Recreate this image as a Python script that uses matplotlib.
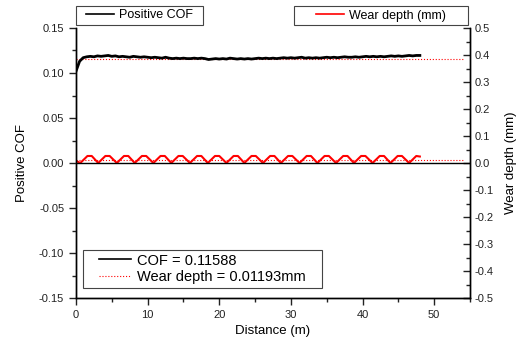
import numpy as np
import matplotlib.pyplot as plt
from matplotlib.lines import Line2D
from matplotlib.patches import Rectangle
from matplotlib.ticker import MultipleLocator

plt.rcParams['font.family'] = ['Liberation Sans', 'DejaVu Sans']

# COF sampled every 0.5 m from 0 to 48 m
cof_x = np.arange(0, 48.01, 0.5)
cof = [0.102, 0.113, 0.117, 0.118, 0.1185, 0.118, 0.119, 0.1185, 0.119, 0.1195,
       0.1185, 0.119, 0.118, 0.1185, 0.118, 0.1175, 0.1185, 0.118, 0.1175, 0.118,
       0.1175, 0.117, 0.1175, 0.117, 0.1165, 0.1175, 0.1165, 0.116, 0.1165, 0.116,
       0.1165, 0.116, 0.116, 0.1165, 0.116, 0.1165, 0.116, 0.115, 0.1155, 0.116,
       0.1155, 0.116, 0.1155, 0.1165, 0.116, 0.1155, 0.116, 0.1155, 0.116, 0.1155,
       0.116, 0.1165, 0.116, 0.1165, 0.116, 0.1165, 0.116, 0.1165, 0.117, 0.1165,
       0.117, 0.1165, 0.117, 0.1175, 0.1165, 0.117, 0.1165, 0.117, 0.1165, 0.117,
       0.1175, 0.117, 0.1175, 0.117, 0.1175, 0.118, 0.1175, 0.1175, 0.118, 0.1175,
       0.118, 0.1185, 0.118, 0.1185, 0.118, 0.1185, 0.118, 0.1185, 0.119, 0.1185,
       0.119, 0.1185, 0.119, 0.1195, 0.119, 0.1195, 0.1195]

# wear depth zigzag vertices (mm)
wear_x = [0.0, 0.6, 1.6, 2.2, 3.1, 4.1, 4.7, 5.7, 6.7, 7.3, 8.2, 9.2, 9.8, 10.8,
          11.8, 12.4, 13.3, 14.3, 14.9, 15.9, 16.9, 17.5, 18.4, 19.4, 20.0, 21.0,
          22.0, 22.6, 23.5, 24.5, 25.1, 26.1, 27.1, 27.7, 28.6, 29.6, 30.2, 31.2,
          32.2, 32.8, 33.7, 34.7, 35.3, 36.3, 37.3, 37.9, 38.8, 39.8, 40.4, 41.4,
          42.4, 43.0, 43.9, 44.9, 45.5, 46.5, 47.5, 48.0]
wear = [0.008, 0.0, 0.026, 0.026, 0.0, 0.026, 0.026, 0.0, 0.026, 0.026, 0.0, 0.026,
        0.026, 0.0, 0.026, 0.026, 0.0, 0.026, 0.026, 0.0, 0.026, 0.026, 0.0, 0.026,
        0.026, 0.0, 0.026, 0.026, 0.0, 0.026, 0.026, 0.0, 0.026, 0.026, 0.0, 0.026,
        0.026, 0.0, 0.026, 0.026, 0.0, 0.026, 0.026, 0.0, 0.026, 0.026, 0.0, 0.026,
        0.026, 0.0, 0.026, 0.026, 0.0, 0.026, 0.026, 0.0, 0.026, 0.024]

cof_mean = 0.11588
wear_mean = 0.01193
mean_x = [0, 54]

W, H = 524, 343
fig = plt.figure(figsize=(W/100, H/100), dpi=100)
ax = fig.add_axes([76/W, 1-298/H, 394/W, 270/H])
ax2 = ax.twinx()

ax.axhline(0, color='black', lw=1.0, zorder=1)
ax.plot(mean_x, [cof_mean, cof_mean], color='red', ls=':', lw=0.8, zorder=2)
ax.plot(cof_x, cof, color='black', lw=2.0, zorder=3)
ax2.plot(mean_x, [wear_mean, wear_mean], color='red', ls=':', lw=0.8)
ax2.plot(wear_x, wear, color='red', lw=1.5)

ax.set_xlim(0, 55)
ax.set_ylim(-0.15, 0.15)
ax2.set_ylim(-0.5, 0.5)

ax.set_xticks([0, 10, 20, 30, 40, 50])
ax.xaxis.set_minor_locator(MultipleLocator(5))
ax.yaxis.set_major_locator(MultipleLocator(0.05))
ax.yaxis.set_minor_locator(MultipleLocator(0.025))
ax2.yaxis.set_major_locator(MultipleLocator(0.1))
ax2.yaxis.set_minor_locator(MultipleLocator(0.05))
ax.yaxis.set_major_formatter(plt.FuncFormatter(lambda v, p: f'{v:.2f}'))
ax2.yaxis.set_major_formatter(plt.FuncFormatter(lambda v, p: f'{v:.1f}'))

for a in (ax, ax2):
    a.spines['top'].set_visible(False)
    for s in a.spines.values():
        s.set_linewidth(1.0)
ax.tick_params(which='both', direction='out', labelsize=8, colors='#222222')
ax.tick_params(which='major', length=5, width=1)
ax.tick_params(which='minor', length=3, width=1)
ax2.tick_params(which='both', direction='in', labelsize=8, colors='#222222')
ax2.tick_params(which='major', length=5, width=1)
ax2.tick_params(which='minor', length=3, width=1)

ax.set_xlabel('Distance (m)', fontsize=9.5, labelpad=4)
ax.set_ylabel('Positive COF', fontsize=9.5, labelpad=8)
ax2.set_ylabel('Wear depth (mm)', fontsize=9.5, labelpad=8)


def boxed_legend(handles, labels, box, fontsize, **kw):
    x0, y0, x1, y1 = box
    fig.add_artist(Rectangle((x0/W, 1-y1/H), (x1-x0)/W, (y1-y0)/H,
                             transform=fig.transFigure, fill=True,
                             facecolor='white', edgecolor='#444444', lw=0.8,
                             zorder=5))
    leg = fig.legend(handles, labels, loc='center',
                     bbox_to_anchor=((x0+x1)/2/W, 1-(y0+y1)/2/H),
                     fontsize=fontsize, frameon=False, borderpad=0,
                     borderaxespad=0, **kw)
    leg.set_zorder(6)
    return leg


boxed_legend([Line2D([], [], color='black', lw=1.2)], ['Positive COF'],
             (76, 6, 203, 25), 9, handlelength=2.3, handletextpad=0.4)
boxed_legend([Line2D([], [], color='red', lw=1.2)], ['Wear depth (mm)'],
             (294, 6, 468, 25), 9, handlelength=2.3, handletextpad=0.4)
boxed_legend([Line2D([], [], color='black', lw=1.2),
              Line2D([], [], color='red', ls=':', lw=0.8)],
             [f'COF = {cof_mean}', f'Wear depth = {wear_mean}mm'],
             (83, 250, 322, 288), 10.5, handlelength=2.2,
             handletextpad=0.4, labelspacing=0.2)

ax.set_zorder(ax2.get_zorder() + 1)
ax.patch.set_visible(False)

fig.savefig('out.png', dpi=100)
